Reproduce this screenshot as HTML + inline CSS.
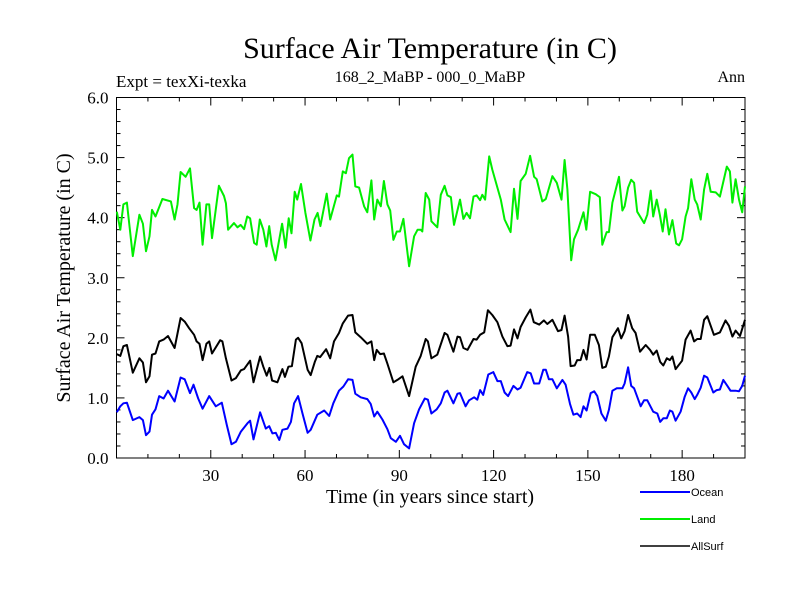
<!DOCTYPE html>
<html><head><meta charset="utf-8"><style>
html,body{margin:0;padding:0;background:#fff;}
svg{display:block;}
text{font-family:"Liberation Serif",serif;fill:#000;}
</style></head><body>
<svg id="chart" width="800" height="600" viewBox="0 0 800 600" xmlns="http://www.w3.org/2000/svg">
<rect width="800" height="600" fill="#fff"/>
<text x="430" y="58" font-size="30" text-anchor="middle">Surface Air Temperature (in C)</text>
<text x="116" y="87" font-size="17">Expt = texXi-texka</text>
<text x="430" y="82" font-size="16" text-anchor="middle">168_2_MaBP - 000_0_MaBP</text>
<text x="745" y="82" font-size="16" text-anchor="end">Ann</text>
<text x="430" y="503" font-size="20" text-anchor="middle">Time (in years since start)</text>
<text transform="translate(70,278) rotate(-90)" font-size="20" text-anchor="middle">Surface Air Temperature (in C)</text>
<g id="axes"></g>
<g id="series"></g>
<g id="legend"></g>
</svg>
<script>
const xTickValues=[30,60,90,120,150,180];
const yTickLabels=["0.0","1.0","2.0","3.0","4.0","5.0","6.0"];
const seriesNames=["Ocean","Land","AllSurf"];
const landYears=[0.1,1.2,2.2,3.3,5.2,7.3,8.4,9.4,10.5,11.3,12.4,14.6,17.3,18.5,19.4,20.4,22,23.4,24.7,25.5,26.4,27.4,28.6,29.5,30.4,32.6,34.2,34.8,35.5,37.4,38.5,39.5,40.6,41.6,42.5,43.8,44.6,45.6,46.7,47.7,48.6,49.4,50.6,52.7,53.8,54.8,55.7,56.7,57.5,58.7,60.1,61.7,63,64,64.9,66.9,68,70.1,70.8,72,73,74,75.1,76,77.2,78.8,79.8,81.1,82,83,84.1,85.1,86.2,87.1,88.1,89.2,90.2,91.3,93.1,94.7,95.8,96.8,97.3,98.4,99.5,100.2,102.1,103.2,104.4,105.3,106.4,107.4,109.3,110.4,111.4,112.5,113.6,114.6,115.7,116.4,117.3,118.6,119.6,122.3,123.5,125.4,126.5,127.6,128.6,130.2,131.6,132.9,133.7,135.5,136.6,138.7,140.1,141.6,142.6,143.5,144.7,145.6,146.9,148.6,149.5,150.7,152.5,153.8,154.6,156,156.7,157.8,159.9,161,161.7,162.8,163.8,164.7,165.7,167.9,168.9,170,170.8,171.9,172.9,173.8,174.7,175.8,176.9,178.1,179,180,181.1,181.9,182.9,184,184.8,185.9,187,188,189.1,190.7,192,194.2,195.2,196,197,198.1,199.1,200];
const landValues=[4.10,3.80,4.22,4.25,3.36,4.05,3.90,3.44,3.69,4.13,4.02,4.31,4.27,3.97,4.22,4.76,4.68,4.82,4.16,4.13,4.25,3.55,4.22,4.22,3.66,4.53,4.36,4.24,3.80,3.91,3.84,3.88,3.81,4.02,3.99,3.58,3.55,3.97,3.80,3.52,3.86,3.55,3.29,3.90,3.50,3.99,3.74,4.43,4.30,4.56,4.08,3.62,3.97,4.08,3.86,4.40,3.97,4.37,4.35,4.77,4.74,4.99,5.05,4.52,4.50,4.19,4.09,4.62,3.97,4.30,4.19,4.61,4.22,4.12,3.63,3.77,3.77,3.98,3.19,3.69,3.80,3.80,3.77,4.41,4.30,3.94,3.84,4.38,4.53,4.37,4.34,3.88,4.30,3.98,4.08,3.99,4.35,4.37,4.29,4.38,4.30,5.02,4.80,4.30,3.97,3.76,4.48,3.98,4.61,4.73,5.03,4.68,4.64,4.27,4.31,4.69,4.58,4.30,4.96,4.47,3.29,3.64,3.80,4.09,3.80,4.43,4.39,4.34,3.55,3.76,3.76,4.25,4.68,4.12,4.19,4.50,4.63,4.58,4.10,3.91,4.05,4.45,4.02,4.30,4.05,3.77,4.14,3.72,3.96,3.57,3.54,3.64,4.02,4.16,4.64,4.30,4.22,3.97,4.47,4.73,4.43,4.42,4.35,4.85,4.77,4.25,4.64,4.30,4.09,4.52];
const allYears=[0.1,1.2,2.2,3.3,5.2,7.3,8.4,9.4,10.5,11.3,12.4,13.6,15,16.4,18.5,20.4,21.7,23.1,24.7,25.5,26.4,27.4,28.6,29.5,30.4,33,33.7,34.8,36.6,38,39.6,40.6,42.5,43.6,45.7,46.7,47.8,48.7,49.5,51.2,52.8,53.6,54.7,55.8,57.1,57.8,58.9,60.8,61.8,63.1,63.9,64.8,66.7,68,69.2,70.8,72,73.7,75.1,76,77.7,79.8,81.1,82,82.8,83.9,85.1,86.2,88.1,89.4,91,93.1,95.2,96.8,98.4,99.1,100.2,102.1,104.4,105.3,107.2,108.5,109.3,110.4,111.7,113.6,114.6,115.7,117,118.2,119.6,121.2,122.8,124.4,125.4,126.5,127.6,128.6,130.2,131.7,132.8,134.5,136,137.1,138.7,140.5,141.6,142.6,143.7,144.5,145.8,146.6,147.7,148.6,149.6,150.7,152.2,153.5,154.6,155.7,156.7,157.8,159.6,160.6,161.7,162.8,164.1,165.2,166.6,168.4,169.8,170.8,171.9,173,174,175.1,176.1,176.9,177.9,180,181.1,182.7,183.8,184.8,185.9,187,188,190.1,192,193.8,194.9,196,197,198.4,200];
const allValues=[1.73,1.70,1.86,1.88,1.42,1.66,1.59,1.26,1.36,1.72,1.74,1.94,1.97,2.03,1.83,2.33,2.27,2.16,2.05,1.94,1.90,1.63,1.90,1.94,1.74,1.96,1.94,1.66,1.29,1.33,1.46,1.48,1.62,1.26,1.69,1.52,1.37,1.50,1.29,1.26,1.48,1.35,1.52,1.53,1.97,2.00,1.91,1.47,1.38,1.60,1.70,1.68,1.81,1.66,1.94,2.08,2.24,2.37,2.38,2.09,2.01,1.90,1.94,1.63,1.80,1.73,1.74,1.57,1.26,1.30,1.36,1.03,1.52,1.70,1.98,1.94,1.66,1.72,2.08,2.05,1.77,2.02,2.01,1.83,1.80,1.98,1.97,2.05,2.09,2.46,2.38,2.26,2.02,1.86,1.87,2.14,1.99,2.18,2.34,2.47,2.26,2.22,2.29,2.23,2.30,2.11,2.13,2.37,2.02,1.53,1.54,1.63,1.63,1.80,1.64,2.05,2.05,1.88,1.50,1.52,1.69,2.01,2.16,1.99,2.11,2.38,2.16,2.08,1.77,1.88,1.80,1.72,1.79,1.60,1.54,1.66,1.63,1.69,1.48,1.62,1.97,2.12,1.94,1.98,1.98,2.30,2.36,2.05,2.09,2.29,2.20,2.02,2.12,2.03,2.30];
const oceanYears=[0.1,1.2,2.2,3.3,5.2,7.3,8.4,9.4,10.5,11.3,12.4,13.6,15,16.4,18.5,20.4,21.7,23.4,24.5,26,27.4,29.5,31.6,33.5,35.1,36.6,38,39.6,41.7,42.5,43.6,45.7,47.5,48.6,49.6,50.7,51.8,52.8,54.4,55.5,56.5,57.8,59.2,60.8,61.8,63.9,66.1,67.7,69,70.8,72.2,73.7,75.1,76,77.7,79.8,80.9,82,83,84.6,86.2,87.3,88.9,90.2,91.5,93.1,94.7,96.3,98.1,99.1,100.2,101.9,103.2,104.4,105.3,107.2,108.5,109.3,111.1,112.2,113.8,114.8,115.7,116.7,118.3,119.9,121.2,122.3,123.5,124.6,126.3,127.6,128.6,130.7,131.8,132.9,134.5,135.8,136.6,137.6,138.7,140.1,141.9,142.9,144.3,145.4,146.6,147.7,148.6,149.6,150.9,152,153,154.3,155.7,156.7,157.8,159.2,161,161.7,162.8,163.8,164.7,166.8,167.9,168.9,170.8,172.1,173,174,175.1,176.1,176.9,177.9,179.5,180.8,181.9,182.9,184,184.8,185.9,187,188,189.9,191,192,193.1,194.4,195.4,197,198.1,199.1,200];
const oceanValues=[0.76,0.86,0.91,0.92,0.63,0.68,0.63,0.38,0.44,0.72,0.81,1.03,0.99,1.12,0.94,1.34,1.31,1.08,1.22,0.99,0.82,1.03,0.86,0.92,0.55,0.23,0.27,0.44,0.58,0.62,0.31,0.76,0.49,0.53,0.41,0.42,0.30,0.47,0.49,0.60,0.91,1.03,0.74,0.42,0.47,0.72,0.79,0.70,0.91,1.12,1.19,1.31,1.30,1.07,1.01,0.98,0.90,0.69,0.77,0.64,0.48,0.33,0.27,0.37,0.23,0.16,0.58,0.81,0.99,0.97,0.74,0.81,0.91,1.09,1.12,0.91,1.07,1.08,0.86,0.96,1.01,0.97,1.13,1.05,1.39,1.43,1.28,1.28,1.09,1.03,1.20,1.14,1.17,1.43,1.41,1.24,1.24,1.47,1.47,1.31,1.31,1.16,1.30,1.22,0.90,0.72,0.74,0.68,0.86,0.79,1.08,1.11,1.03,0.74,0.62,0.80,1.12,1.16,1.16,1.24,1.51,1.20,1.16,0.86,0.96,0.96,0.77,0.74,0.60,0.66,0.66,0.79,0.77,0.62,0.77,1.02,1.16,1.09,0.98,1.05,1.17,1.37,1.34,1.09,1.13,1.14,1.30,1.20,1.12,1.12,1.11,1.20,1.37];

const NS='http://www.w3.org/2000/svg';
const L=116.5,R=745,T=97.5,B=458;
const X0=0,X1=200,Y0=0,Y1=6;
function xs(v){return L+(v-X0)/(X1-X0)*(R-L);}
function ys(v){return B-(v-Y0)/(Y1-Y0)*(B-T);}
function mk(tag,attrs,parent){const e=document.createElementNS(NS,tag);for(const k in attrs)e.setAttribute(k,attrs[k]);parent.appendChild(e);return e;}
const axes=document.getElementById('axes');
const frame=mk('rect',{x:L,y:T,width:R-L,height:B-T,fill:'none',stroke:'#000','stroke-width':1},axes);


// x ticks every 10, major at labeled values
for(let v=10;v<200;v+=10){
  const major=xTickValues.indexOf(v)>=0;const len=major?8:4;const x=xs(v);
  const t1=mk('line',{x1:x,x2:x,y1:B,y2:B-len,stroke:'#000','stroke-width':1},axes);
  
  
  const t2=mk('line',{x1:x,x2:x,y1:T,y2:T+len,stroke:'#000','stroke-width':1},axes);
  
  
}
xTickValues.forEach(v=>{
  const t=mk('text',{x:xs(v),y:B+23,'font-size':17,'text-anchor':'middle'},axes);t.textContent=String(v);
  
  
});
for(let i=1;i<30;i++){
  const v=i*0.2;const major=i%5===0;const len=major?8:4;const y=ys(v);
  const t1=mk('line',{x1:L,x2:L+len,y1:y,y2:y,stroke:'#000','stroke-width':1},axes);
  
  
  const t2=mk('line',{x1:R,x2:R-len,y1:y,y2:y,stroke:'#000','stroke-width':1},axes);
  
  
}
yTickLabels.forEach((s,i)=>{
  const t=mk('text',{x:L-8,y:ys(parseFloat(s))+6,'font-size':17,'text-anchor':'end'},axes);t.textContent=s;
  
  
});
const sg=document.getElementById('series');
function line(xsArr,vals,color,w,name){
  const d=xsArr.map((x,i)=>(i?'L':'M')+xs(x).toFixed(1)+' '+ys(vals[i]).toFixed(1)).join(' ');
  const p=mk('path',{d:d,fill:'none',stroke:color,'stroke-width':w,'stroke-linejoin':'round'},sg);
  
  
}
line(landYears,landValues,'#00ee00',2,'land-line');
line(allYears,allValues,'#000000',2,'allsurf-line');
line(oceanYears,oceanValues,'#0000ff',2,'ocean-line');
const lg=document.getElementById('legend');
const lcol=['#0000ff','#00ee00','#000000'];
seriesNames.forEach((n,i)=>{
  const y=492+i*27;
  const l=mk('line',{x1:640,x2:690,y1:y,y2:y,stroke:lcol[i],'stroke-width':i==2?1.5:2},lg);
  
  
  const t=mk('text',{x:691,y:y+4,'font-size':11,style:'font-family:"Liberation Sans",sans-serif'},lg);t.textContent=n;
  
  
});
</script>
</body></html>
